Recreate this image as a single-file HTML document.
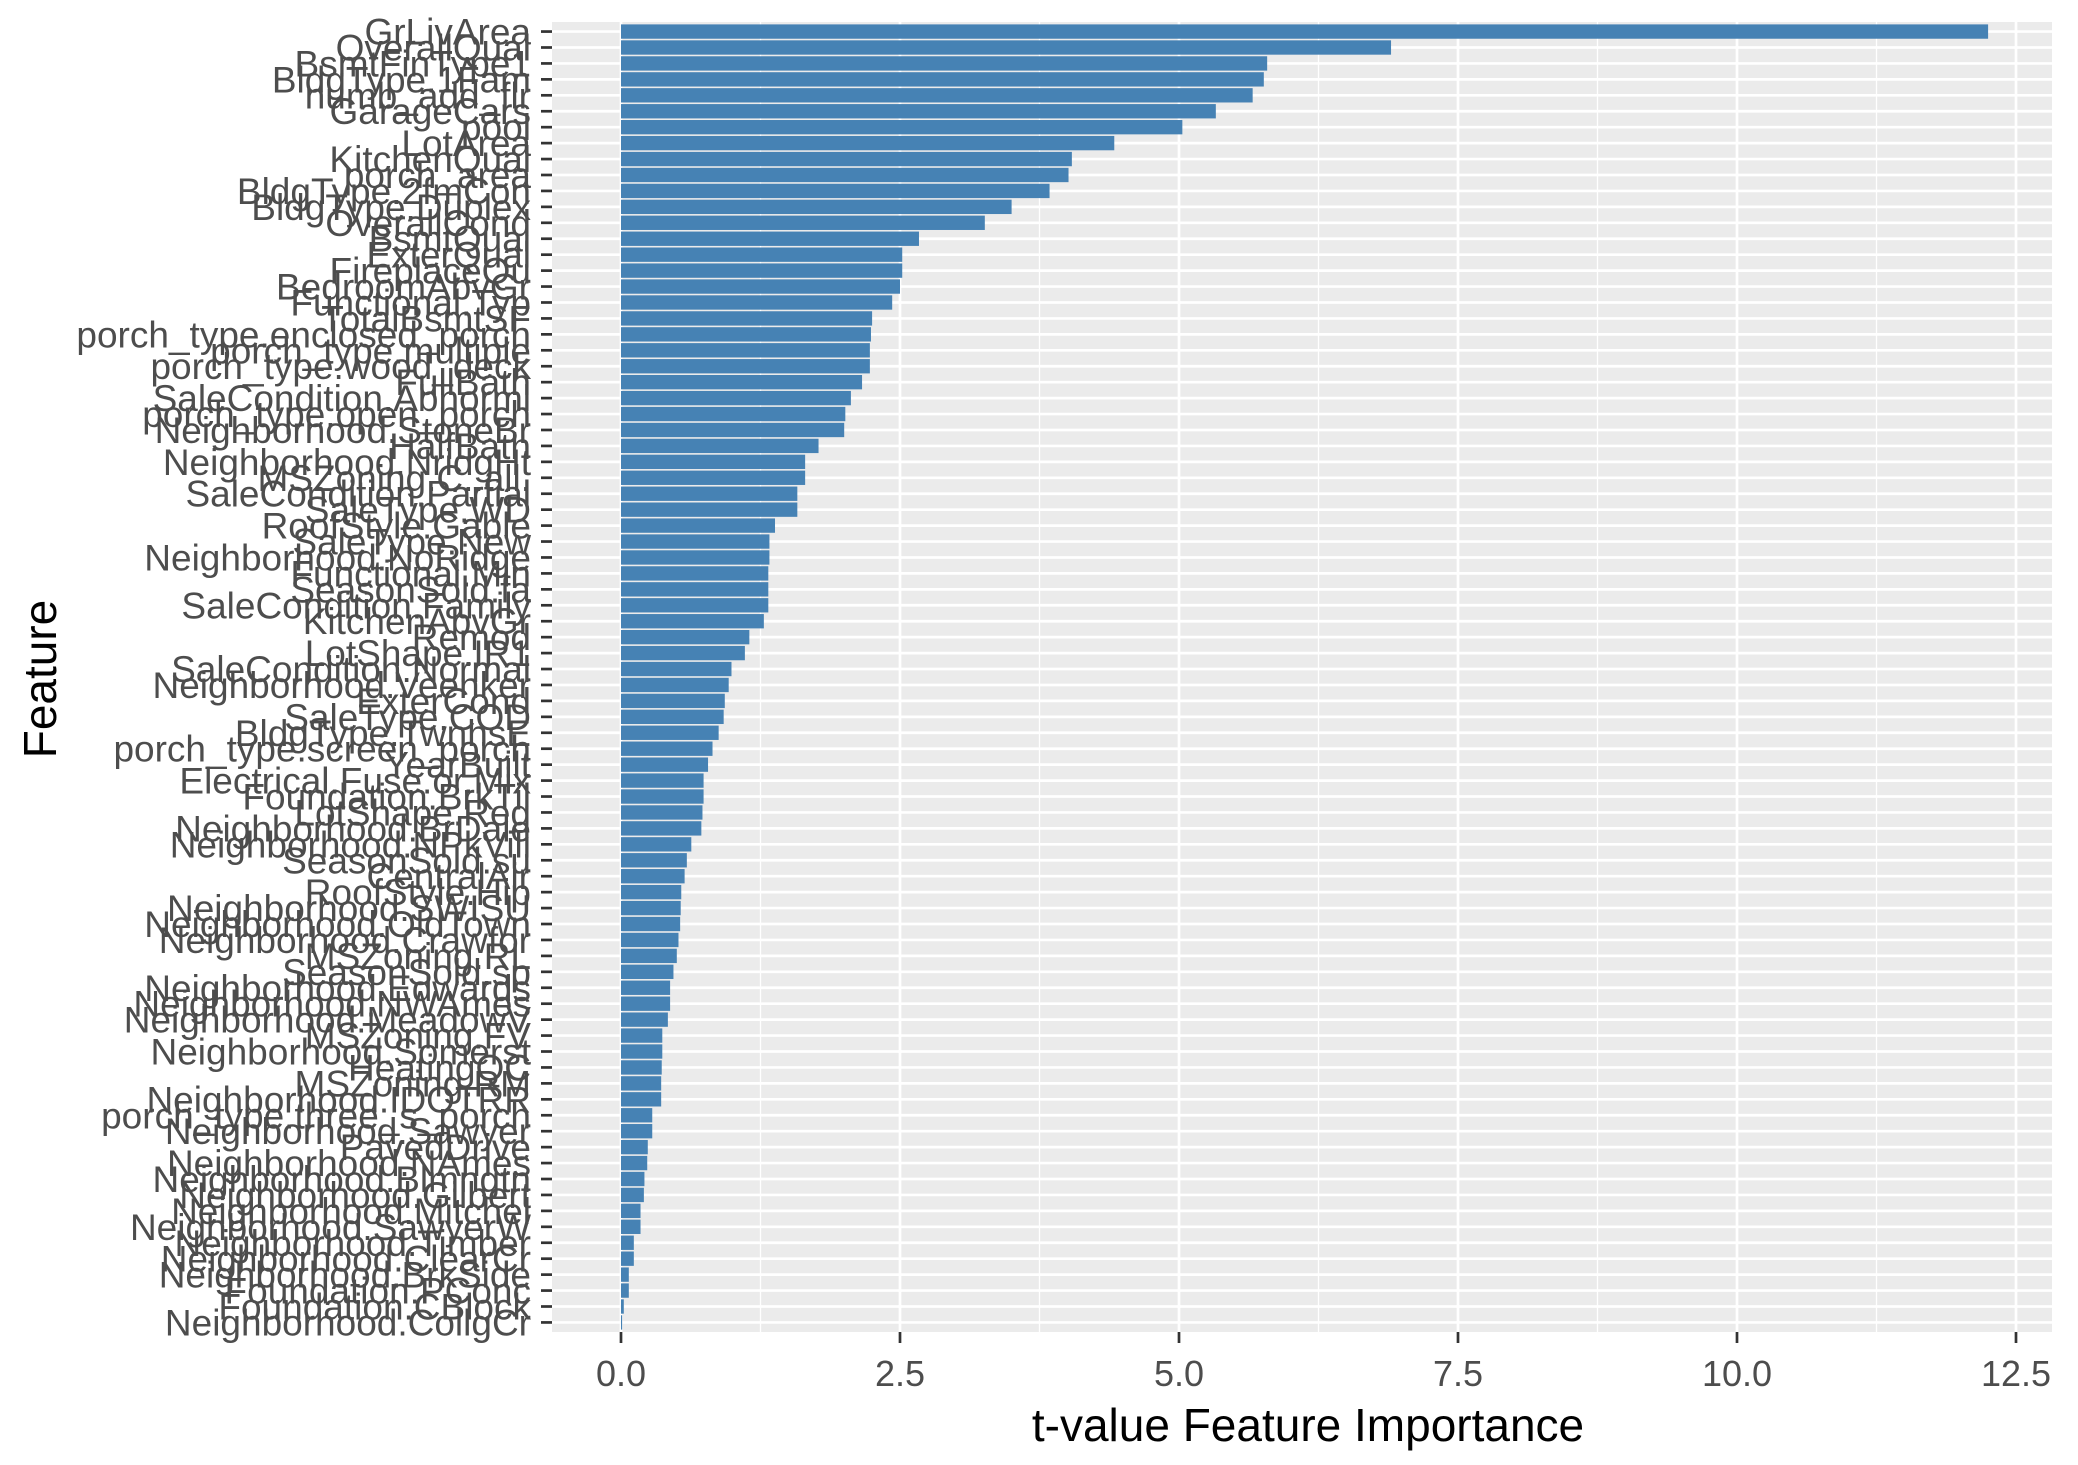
<!DOCTYPE html>
<html><head><meta charset="utf-8">
<style>
html,body{margin:0;padding:0;background:#fff;}
svg{display:block;}
text{font-family:"Liberation Sans",Arial,sans-serif;}
</style></head>
<body>
<svg id="chart" width="2078" height="1465" viewBox="0 0 2078 1465" xmlns="http://www.w3.org/2000/svg">
<rect x="0" y="0" width="2078" height="1465" fill="#fff"/>
<rect id="panel" x="552" y="22" width="1500" height="1310" fill="#EBEBEB"/>
<g id="grid"></g>
<g id="bars"></g>
<g id="yaxis"></g>
<g id="xaxis"></g>
<text x="1308" y="1441" font-size="46" fill="#000" text-anchor="middle">t-value Feature Importance</text>
<text transform="translate(56,679) rotate(-90)" font-size="46" fill="#000" text-anchor="middle">Feature</text>
</svg>
<script>
const features = ["GrLivArea","OverallQual","BsmtFinType1","BldgType.1Fam","numb_add_flr","GarageCars","pool","LotArea","KitchenQual","porch_area","BldgType.2fmCon","BldgType.Duplex","OverallCond","BsmtQual","ExterQual","FireplaceQu","BedroomAbvGr","Functional.Typ","TotalBsmtSF","porch_type.enclosed_porch","porch_type.multiple","porch_type.wood_deck","FullBath","SaleCondition.Abnorml","porch_type.open_porch","Neighborhood.StoneBr","HalfBath","Neighborhood.NridgHt","MSZoning.C..all.","SaleCondition.Partial","SaleType.WD","RoofStyle.Gable","SaleType.New","Neighborhood.NoRidge","Functional.Min","SeasonSold.fa","SaleCondition.Family","KitchenAbvGr","Remod","LotShape.IR1","SaleCondition.Normal","Neighborhood.Veenker","ExterCond","SaleType.COD","BldgType.TwnhsE","porch_type.screen_porch","YearBuilt","Electrical.Fuse.or.Mix","Foundation.BrkTil","LotShape.Reg","Neighborhood.BrDale","Neighborhood.NPkVill","SeasonSold.su","CentralAir","RoofStyle.Hip","Neighborhood.SWISU","Neighborhood.OldTown","Neighborhood.Crawfor","MSZoning.RL","SeasonSold.sp","Neighborhood.Edwards","Neighborhood.NWAmes","Neighborhood.MeadowV","MSZoning.FV","Neighborhood.Somerst","HeatingQC","MSZoning.RM","Neighborhood.IDOTRR","porch_type.three_s_porch","Neighborhood.Sawyer","PavedDrive","Neighborhood.NAmes","Neighborhood.Blmngtn","Neighborhood.Gilbert","Neighborhood.Mitchel","Neighborhood.SawyerW","Neighborhood.Timber","Neighborhood.ClearCr","Neighborhood.BrkSide","Foundation.PConc","Foundation.CBlock","Neighborhood.CollgCr"];
const importance = [12.25,6.90,5.79,5.76,5.66,5.33,5.03,4.42,4.04,4.01,3.84,3.50,3.26,2.67,2.52,2.52,2.50,2.43,2.25,2.24,2.23,2.23,2.16,2.06,2.01,2.00,1.77,1.65,1.65,1.58,1.58,1.38,1.33,1.33,1.32,1.32,1.32,1.28,1.15,1.11,0.99,0.965,0.93,0.92,0.875,0.82,0.78,0.74,0.74,0.73,0.72,0.63,0.59,0.57,0.54,0.535,0.53,0.515,0.50,0.47,0.44,0.44,0.42,0.37,0.37,0.365,0.36,0.36,0.28,0.28,0.24,0.235,0.21,0.205,0.175,0.175,0.115,0.115,0.07,0.07,0.025,0.01];
const xTicks = [0,2.5,5,7.5,10,12.5];
const xTickLabels = ["0.0","2.5","5.0","7.5","10.0","12.5"];
const xMinor = [1.25,3.75,6.25,8.75,11.25];

const NS = "http://www.w3.org/2000/svg";
const panelL = 552, panelR = 2052, panelT = 22, panelB = 1332;
const x0px = 621, x125px = 2016;
function xScale(v){ return x0px + v*(x125px-x0px)/12.5; }
const n = features.length;
const step = (panelB-panelT)/(n-1+1.2);
function yScale(i){ return panelT + (0.6+i)*step; }
function mk(tag, attrs, parent){
  const e = document.createElementNS(NS, tag);
  for (const k in attrs) e.setAttribute(k, attrs[k]);
  parent.appendChild(e); return e;
}
const grid = document.getElementById('grid');
xMinor.forEach(v=>{
  const l = mk('line',{x1:xScale(v),x2:xScale(v),y1:panelT,y2:panelB,stroke:'#fff','stroke-width':1.3},grid);
  
  
});
xTicks.forEach(v=>{
  const l = mk('line',{x1:xScale(v),x2:xScale(v),y1:panelT,y2:panelB,stroke:'#fff','stroke-width':2.7},grid);
  
  
});
features.forEach((f,i)=>{
  const l = mk('line',{x1:panelL,x2:panelR,y1:yScale(i),y2:yScale(i),stroke:'#fff','stroke-width':2.7},grid);
  
  
});
const bars = document.getElementById('bars');
const bw = step*0.9;
importance.forEach((v,i)=>{
  const r = mk('rect',{x:xScale(0),y:yScale(i)-bw/2,width:Math.max(0.5,xScale(v)-xScale(0)),height:bw,fill:'#4682B4'},bars);
  
  
});
const ya = document.getElementById('yaxis');
features.forEach((f,i)=>{
  const t = mk('line',{x1:541,x2:552,y1:yScale(i),y2:yScale(i),stroke:'#333','stroke-width':2.7},ya);
  
  
  const tx = mk('text',{x:531,y:yScale(i)+13,'text-anchor':'end','font-size':37,fill:'#4D4D4D'},ya);
  tx.textContent = f;
  
  
});
const xa = document.getElementById('xaxis');
xTicks.forEach((v,i)=>{
  const t = mk('line',{x1:xScale(v),x2:xScale(v),y1:panelB,y2:panelB+11,stroke:'#333','stroke-width':2.7},xa);
  
  
  const tx = mk('text',{x:xScale(v),y:panelB+54,'text-anchor':'middle','font-size':36,fill:'#4D4D4D'},xa);
  tx.textContent = xTickLabels[i];
  
  
});
</script>
</body></html>
